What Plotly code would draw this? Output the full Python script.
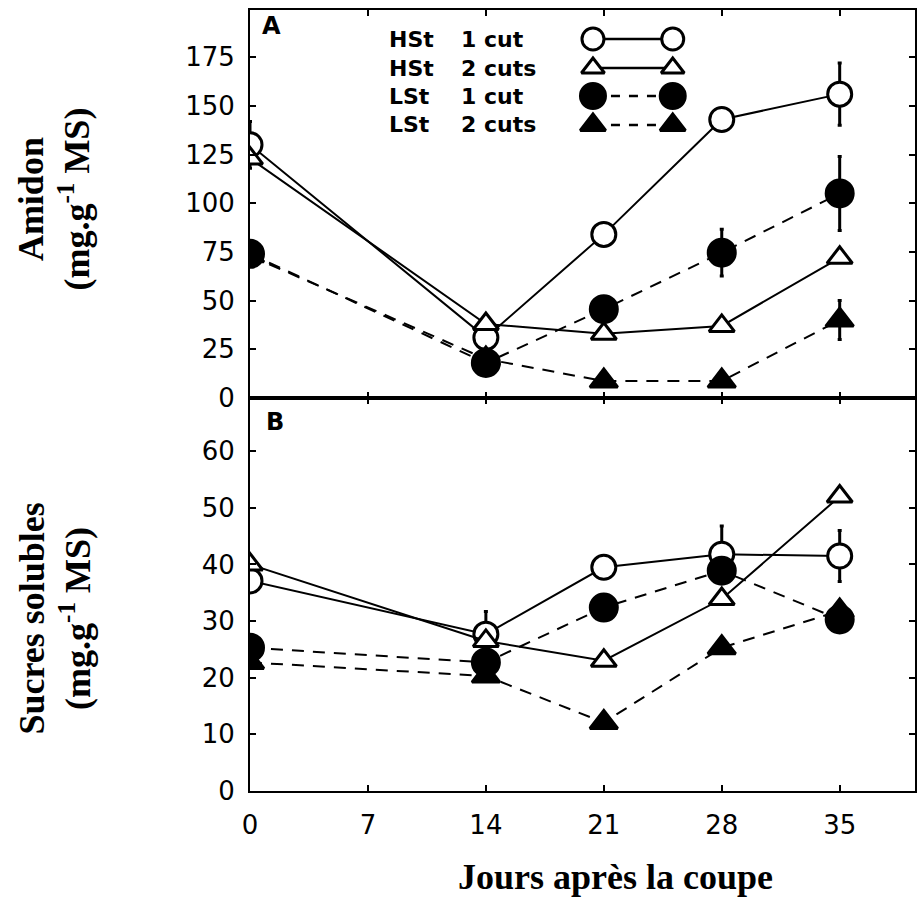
import plotly.graph_objects as go

# ---------------- data ----------------
days = [0, 14, 21, 28, 35]
x_tick_vals = [0, 7, 14, 21, 28, 35]
amidon_ticks = [0, 25, 50, 75, 100, 125, 150, 175]
sucres_ticks = [0, 10, 20, 30, 40, 50, 60]

series_names = ["HSt  1 cut", "HSt  2 cuts", "LSt  1 cut", "LSt  2 cuts"]

amidon_hst1 = [130, 31, 84, 143, 156]
amidon_hst1_err = [12, 0, 0, 0, 16]
amidon_hst2 = [123, 38, 33, 37, 72]
amidon_hst2_err = [0, 0, 0, 0, 0]
amidon_lst1 = [74, 18, 45.6, 74.6, 105]
amidon_lst1_err = [0, 0, 0, 12, 19]
amidon_lst2 = [73, 20, 8.7, 8.7, 40]
amidon_lst2_err = [0, 0, 0, 0, 10]

sucres_hst1 = [37.1, 27.7, 39.5, 41.8, 41.5]
sucres_hst1_err = [0, 4, 0, 5, 4.5]
sucres_hst2 = [40, 26.5, 23, 33.9, 52]
sucres_hst2_err = [0, 0, 0, 0, 0]
sucres_lst1 = [25.3, 22.7, 32.4, 38.9, 30.3]
sucres_lst1_err = [0, 0, 0, 0, 0]
sucres_lst2 = [22.7, 20.3, 12.1, 25.3, 31.8]
sucres_lst2_err = [0, 0, 0, 0, 0]

# ---------------- styles ----------------
W, H = 917, 899
ML, MR, MT, MB = 250, 0, 10, 108
SPLIT = 0.5032
X_RANGE = [0, 39.47]
Y_TOP_RANGE = [0, 199.2]
Y_BOT_RANGE = [0, 69.4]

DASH = "12px,9px"
styles = [
    dict(symbol="circle", fill="white", size=24, dash="solid"),
    dict(symbol="triangle-up", fill="white", size=22, dash="solid"),
    dict(symbol="circle", fill="black", size=27, dash=DASH),
    dict(symbol="triangle-up", fill="black", size=24, dash=DASH),
]

TICK_FONT = dict(family="DejaVu Sans", size=26, color="black")
TITLE_FONT = dict(family="Liberation Serif", size=36, color="black")

fig = go.Figure()

amidon = [(amidon_hst1, amidon_hst1_err), (amidon_hst2, amidon_hst2_err),
          (amidon_lst1, amidon_lst1_err), (amidon_lst2, amidon_lst2_err)]
sucres = [(sucres_hst1, sucres_hst1_err), (sucres_hst2, sucres_hst2_err),
          (sucres_lst1, sucres_lst1_err), (sucres_lst2, sucres_lst2_err)]


def add_series(vals, errs, st, xa, ya, name):
    fig.add_trace(go.Scatter(
        x=days, y=vals, mode="lines+markers", name=name, showlegend=False,
        xaxis=xa, yaxis=ya,
        line=dict(color="black", width=2, dash=st["dash"]),
        marker=dict(symbol=st["symbol"], size=st["size"], color=st["fill"],
                    line=dict(color="black", width=3)),
        error_y=dict(type="data", array=errs, visible=True, color="black",
                     thickness=3, width=2),
    ))


for (vals, errs), st, nm in zip(amidon, styles, series_names):
    add_series(vals, errs, st, "x2", "y2", nm)
for (vals, errs), st, nm in zip(sucres, styles, series_names):
    add_series(vals, errs, st, "x", "y", nm)

# ---------------- custom legend (top panel) ----------------
def px_to_xdata(px):
    return (px - ML) / (W - ML - MR) * (X_RANGE[1] - X_RANGE[0]) + X_RANGE[0]

plot_h = H - MT - MB
top_px0 = MT + plot_h * (1 - SPLIT)  # pixel of top panel 0


def py_to_ytop(py):
    return (top_px0 - py) / (top_px0 - MT) * Y_TOP_RANGE[1]


def py_to_paper(py):
    return (H - MB - py) / plot_h


def px_to_paper(px):
    return (px - ML) / (W - ML - MR)


legend_rows_px = [39, 68, 96, 125]
key_x_px = [594, 674]
text_col_px = [387, 460]
for nm, st, rpx in zip(series_names, styles, legend_rows_px):
    fig.add_trace(go.Scatter(
        x=[px_to_xdata(k) for k in key_x_px], y=[py_to_ytop(rpx)] * 2,
        mode="lines+markers", showlegend=False, xaxis="x2", yaxis="y2",
        line=dict(color="black", width=2.5, dash=("solid" if st["dash"] == "solid" else "9px,9px")),
        marker=dict(symbol=st["symbol"], size=st["size"] - 2, color=st["fill"],
                    line=dict(color="black", width=3)),
        hoverinfo="skip",
    ))
    grp, cut = nm.split("  ")
    for txt, cx in zip([grp, cut], text_col_px):
        fig.add_annotation(
            x=px_to_paper(cx), y=py_to_paper(rpx), xref="paper", yref="paper",
            text=txt, showarrow=False, xanchor="left", yanchor="middle",
            font=dict(family="DejaVu Sans", size=22, color="black", weight="bold"),
        )

# ---------------- axes ----------------
common_x = dict(range=X_RANGE, tickvals=x_tick_vals, ticks="inside", ticklen=6,
                tickwidth=2, tickcolor="black", showline=True, linewidth=2,
                linecolor="black", mirror="ticks", showgrid=False, zeroline=False,
                tickfont=TICK_FONT)
common_y = dict(ticks="inside", ticklen=6, tickwidth=2, tickcolor="black",
                showline=True, linewidth=2, linecolor="black", mirror="ticks",
                showgrid=False, zeroline=False, tickfont=TICK_FONT,
                ticklabelstandoff=8)

fig.update_layout(
    width=W, height=H,
    margin=dict(l=ML, r=MR, t=MT, b=MB),
    paper_bgcolor="white", plot_bgcolor="white",
    xaxis=dict(domain=[0, 1], anchor="y", ticklabelstandoff=10, **common_x),
    xaxis2=dict(domain=[0, 1], anchor="y2", matches="x", showticklabels=False, **common_x),
    yaxis=dict(domain=[0, SPLIT], anchor="x", range=Y_BOT_RANGE, tickvals=sucres_ticks, **common_y),
    yaxis2=dict(domain=[SPLIT, 1], anchor="x2", range=Y_TOP_RANGE, tickvals=amidon_ticks, **common_y),
    showlegend=False,
)

# ---------------- titles / labels ----------------
fig.add_annotation(x=px_to_paper(54), y=py_to_paper(199), xref="paper", yref="paper",
                   text="<b>Amidon<br>(mg.g<sup>-1</sup> MS)</b>", textangle=-90,
                   showarrow=False, xanchor="center", yanchor="middle", font=TITLE_FONT)
fig.add_annotation(x=px_to_paper(54), y=py_to_paper(619), xref="paper", yref="paper",
                   text="<b>Sucres solubles<br>(mg.g<sup>-1</sup> MS)</b>", textangle=-90,
                   showarrow=False, xanchor="center", yanchor="middle", font=TITLE_FONT)
fig.add_annotation(x=px_to_paper(617), y=py_to_paper(877), xref="paper", yref="paper",
                   text="<b>Jours après la coupe</b>", showarrow=False,
                   xanchor="center", yanchor="middle", font=TITLE_FONT)
fig.add_annotation(x=px_to_paper(272), y=py_to_paper(26), xref="paper", yref="paper",
                   text="A", showarrow=False, xanchor="center", yanchor="middle",
                   font=dict(family="DejaVu Sans", size=24, color="black", weight="bold"))
fig.add_annotation(x=px_to_paper(275), y=py_to_paper(422), xref="paper", yref="paper",
                   text="B", showarrow=False, xanchor="center", yanchor="middle",
                   font=dict(family="DejaVu Sans", size=24, color="black", weight="bold"))

fig.write_html("out.html")
